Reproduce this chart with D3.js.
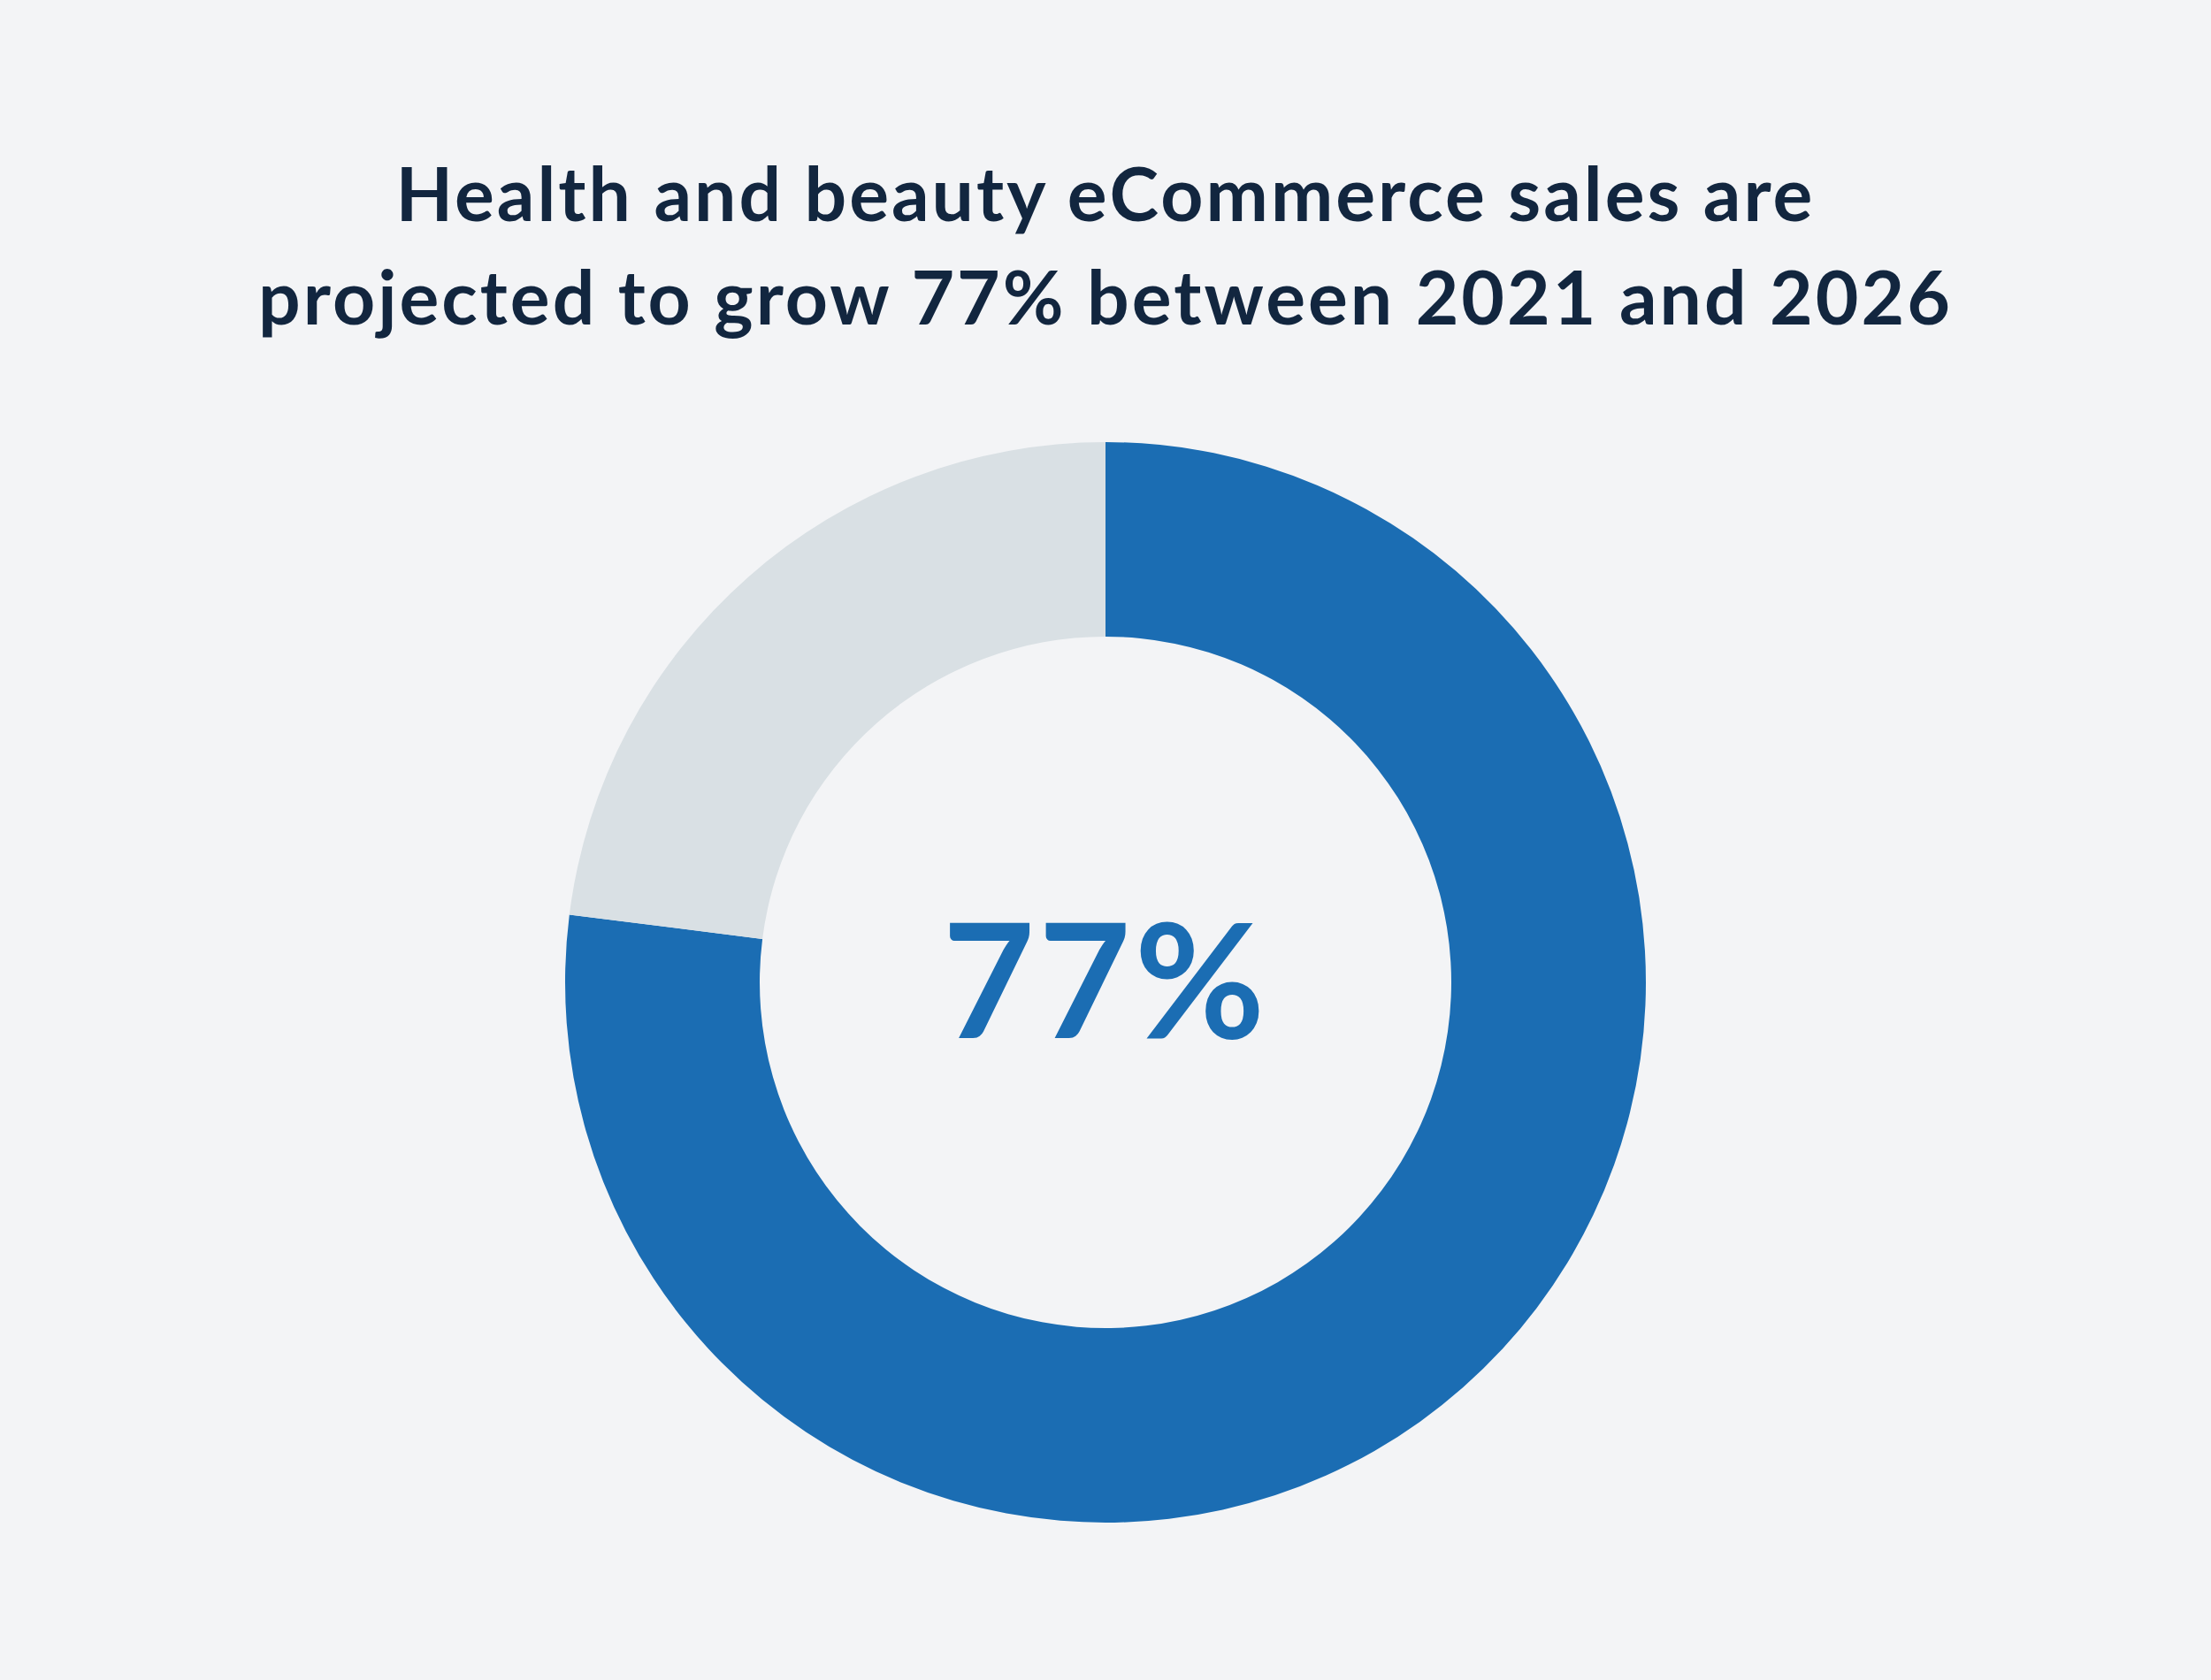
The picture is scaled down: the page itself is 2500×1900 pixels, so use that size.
<!DOCTYPE html>
<html><head><meta charset="utf-8">
<script src="https://cdn.jsdelivr.net/npm/d3@7"></script>
<style>body{margin:0;background:#f3f4f6;}</style>
</head><body>
<script>
const titleLines = ["Health and beauty eCommerce sales are","projected to grow 77% between 2021 and 2026"];
const categories = ["Growth","Remainder"];
const values = [77, 23];
const centerLabel = "77%";
const colors = ["#1b6db3","#d9e0e4"];

const W=2500,H=1900;
const svg=d3.select("body").append("svg").attr("width",W).attr("height",H);
svg.append("rect").attr("width",W).attr("height",H).attr("fill","#f3f4f6");
svg.selectAll("text.t").data(titleLines).join("text").attr("class","t")
 .attr("x",W/2).attr("y",(d,i)=>250+i*117).attr("text-anchor","middle")
 .attr("font-family","Lato, 'Open Sans', sans-serif").attr("font-weight","bold")
 .attr("font-size",84).attr("letter-spacing",3).attr("fill","#12263f").text(d=>d);
const g=svg.append("g").attr("transform","translate(1250,1111)");
const pie=d3.pie().sort(null).value(d=>d);
const arc=d3.arc().innerRadius(391).outerRadius(611);
g.selectAll("path").data(pie(values)).join("path").attr("d",arc).attr("fill",(d,i)=>colors[i]);
g.append("text").attr("text-anchor","middle").attr("y",midY=() =>0).attr("dy","0.35em")
 .attr("font-family","Lato, 'Open Sans', sans-serif").attr("font-weight","bold")
 .attr("font-size",180).attr("letter-spacing",4).attr("fill","#1b6db3").text(centerLabel);
</script>
</body></html>
